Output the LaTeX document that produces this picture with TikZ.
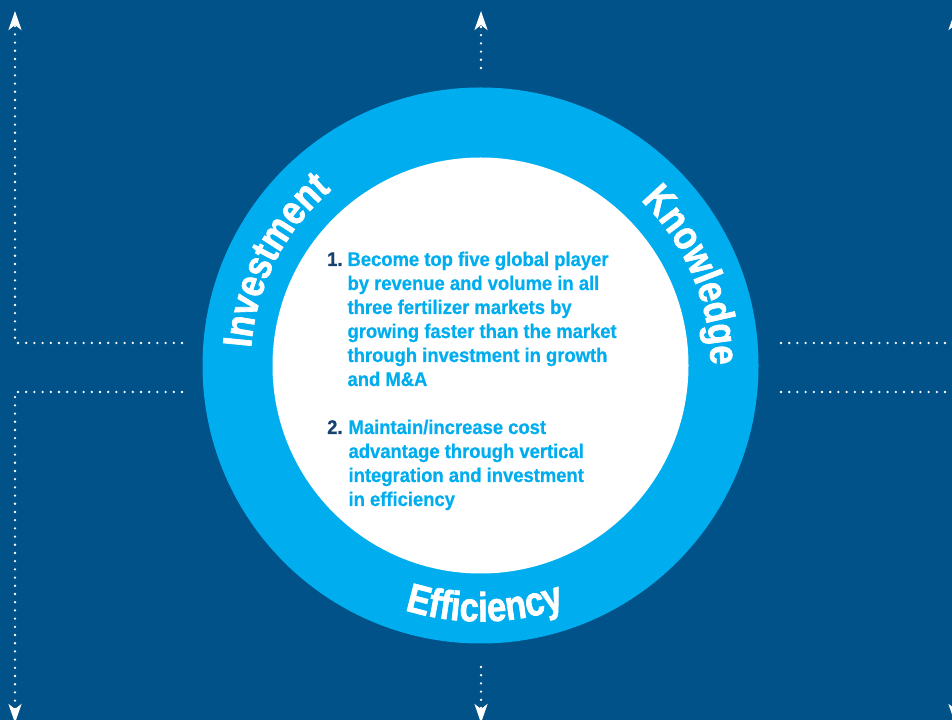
\documentclass[tikz,border=0pt]{standalone}
\usepackage{fontspec}
\usepackage{xcolor}
\usepackage{tikz}
\usetikzlibrary{arrows.meta,decorations.text}

\newfontfamily\goalfont[FakeStretch=0.93, FakeBold=0.6]{Liberation Sans}
\newfontfamily\ringfont[FakeStretch=0.84, FakeBold=1.6]{Liberation Sans}

\definecolor{navy}{HTML}{005288}
\definecolor{skyblue}{HTML}{00AEEF}
\definecolor{numblue}{HTML}{17416F}

\tikzset{
    dotline/.style={white, line width=2.6pt, line cap=round, dash pattern=on 0pt off 8.2pt},
    pointer/.style={-{Stealth[length=19pt,width=13pt,inset=5pt]}},
    goaltext/.style={inner sep=0pt, anchor=base west, text=skyblue,
        font=\goalfont\bfseries\fontsize{19.8}{24}\selectfont},
    ringlabel/.style={decorate, decoration={text along path, text align=center,
        text color=white, text={|\ringfont\bfseries\fontsize{41}{41}\selectfont|#1}}}
}

\begin{document}
\begin{tikzpicture}[x=1pt,y=1pt]
        \clip (0,0) rectangle (952,720);
        \fill[navy] (0,0) rectangle (952,720);

        % ring and core
        \node[circle, fill=skyblue, inner sep=0pt, minimum size=556pt] (ring) at (480.5,354.5) {};
        \node[circle, fill=white, inner sep=0pt, minimum size=416pt] (core) at (ring.center) {};

        \path[ringlabel=Investment] ([shift={(198:230pt)}]ring.center) arc[start angle=198, end angle=108, radius=230pt];
        \path[ringlabel=Knowledge] ([shift={(68:230pt)}]ring.center) arc[start angle=68, end angle=-22, radius=230pt];
        \path[ringlabel=Efficiency] ([shift={(226:256pt)}]ring.center) arc[start angle=226, end angle=316, radius=256pt];

        % goals
        \node[goaltext] (goal1) at (327,454) {\begin{tabular}[t]{@{}l@{\hspace{5pt}}l@{}}
            \textcolor{numblue}{1.} & Become top five global player\\
            & by revenue and volume in all\\
            & three fertilizer markets by\\
            & growing faster than the market\\
            & through investment in growth\\
            & and M\&A
        \end{tabular}};
        \node[goaltext] (goal2) at (327,286) {\begin{tabular}[t]{@{}l@{\hspace{6pt}}l@{}}
            \textcolor{numblue}{2.} & Maintain/increase cost\\
            & advantage through vertical\\
            & integration and investment\\
            & in efficiency
        \end{tabular}};

        % dotted arrows
        \coordinate (lu) at (182,377);
        \coordinate (lucorner) at (15,377);
        \coordinate (lutip) at (15,709);
        \coordinate (ld) at (182,328);
        \coordinate (ldcorner) at (15,328);
        \coordinate (ldtip) at (15,-3);
        \coordinate (ru) at (781,377);
        \coordinate (rucorner) at (955,377);
        \coordinate (rutip) at (955,709);
        \coordinate (rd) at (781,328);
        \coordinate (rdcorner) at (955,328);
        \coordinate (rdtip) at (955,-3);
        \coordinate (top) at (481,652);
        \coordinate (toptip) at (481,709);
        \coordinate (bottom) at (481,53);
        \coordinate (bottomtip) at (481,-3);

        \draw[dotline, pointer] (lu) -- (lucorner) -- (lutip);
        \draw[dotline, pointer] (ld) -- (ldcorner) -- (ldtip);
        \draw[dotline, pointer] (ru) -- (rucorner) -- (rutip);
        \draw[dotline, pointer] (rd) -- (rdcorner) -- (rdtip);
        \draw[dotline, pointer] (top) -- (toptip);
        \draw[dotline, pointer] (bottom) -- (bottomtip);
\end{tikzpicture}
\end{document}
